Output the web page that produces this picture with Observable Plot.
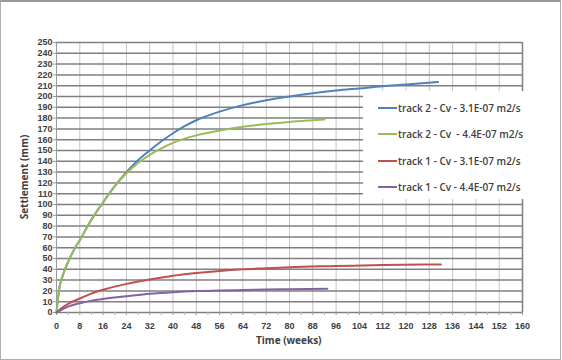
<!DOCTYPE html>
<html>
<head>
<meta charset="utf-8">
<script src="https://cdn.jsdelivr.net/npm/d3@7"></script>
<script src="https://cdn.jsdelivr.net/npm/@observablehq/plot@0.6"></script>
<style>
  html, body { margin: 0; padding: 0; background: #fff; }
  #wrap { position: relative; width: 562px; height: 360px; overflow: hidden; font-family: "Open Sans", sans-serif; }
  #frame { position: absolute; left: 0; top: 0; width: 559px; height: 357px; border: 1px solid #b0b0b0; border-top: 2px solid #999; pointer-events: none; }
  .ttl { position: absolute; font-weight: 700; font-size: 10px; color: #404040; white-space: nowrap; }
  #legend { position: absolute; left: 363px; top: 91px; width: 167px; height: 108px; background: #fff; }
  .item { position: absolute; left: 15px; height: 14px; display: flex; align-items: center; white-space: pre; font-size: 10px; font-weight: 600; color: #404040; }
  .sw { display: inline-block; width: 19px; height: 2px; margin-right: 1px; }
</style>
</head>
<body>
<div id="wrap"></div>
<script>
// ---- data ----
const xTicks = [0, 8, 16, 24, 32, 40, 48, 56, 64, 72, 80, 88, 96, 104, 112, 120, 128, 136, 144, 152, 160];
const yTicks = [0, 10, 20, 30, 40, 50, 60, 70, 80, 90, 100, 110, 120, 130, 140, 150, 160, 170, 180, 190, 200, 210, 220, 230, 240, 250];
const xMinorTicks = [4, 12, 20, 28, 36, 44, 52, 60, 68, 76, 84, 92, 100, 108, 116, 124, 132, 140, 148, 156];

const seriesNames = [
  "track 2 - Cv - 3.1E-07 m2/s",
  "track 2 - Cv  - 4.4E-07 m2/s",
  "track 1 - Cv - 3.1E-07 m2/s",
  "track 1 - Cv - 4.4E-07 m2/s"
];
const seriesColors = ["#4f81bd", "#9bbb59", "#c0504d", "#8064a2"];

const weeksA = [0, 1, 2, 4, 6, 8, 12, 16, 20, 24, 28, 32, 36, 40, 44, 48, 56, 64, 72, 80, 88, 96, 104, 112, 120, 131];
const track2Cv31 = [0, 23, 33, 47, 58, 67, 86, 102, 117, 130, 141, 150, 158.5, 166, 172.5, 178, 186, 192, 196.5, 200, 203, 205.5, 207.5, 209.5, 211, 213.5];

const weeksB = [0, 1, 2, 4, 6, 8, 12, 16, 20, 24, 28, 32, 36, 40, 44, 48, 56, 64, 72, 80, 88, 92];
const track2Cv44 = [0, 23, 33, 47, 58, 67, 86, 102, 117, 129, 138.5, 146, 152, 157, 161, 164, 168.5, 172, 174.5, 176.5, 178, 178.7];

const weeksC = [0, 2, 4, 8, 12, 16, 24, 32, 40, 48, 56, 64, 72, 80, 96, 112, 132];
const track1Cv31 = [0, 4.5, 8, 13, 17.5, 21, 26.5, 30.5, 34, 36.5, 38.5, 40, 41, 42, 43, 44, 44.5];

const weeksD = [0, 2, 4, 8, 12, 16, 24, 32, 40, 48, 56, 64, 72, 80, 93];
const track1Cv44 = [0, 3, 5.5, 8.6, 11, 12.6, 15, 17.3, 18.8, 19.8, 20.3, 20.8, 21.2, 21.6, 22];

// table built from the arrays
const table = [];
[[weeksA, track2Cv31], [weeksB, track2Cv44], [weeksC, track1Cv31], [weeksD, track1Cv44]].forEach(([w, v], i) => {
  w.forEach((t, j) => table.push({series: seriesNames[i], week: t, mm: v[j]}));
});

const chart = Plot.plot({
  width: 562,
  height: 360,
  marginLeft: 56,
  marginRight: 40,
  marginTop: 42,
  marginBottom: 48,
  style: {fontFamily: "'Liberation Sans', Arial, sans-serif", fontSize: "9px", fontWeight: "700", color: "#404040", background: "transparent"},
  x: {domain: [0, 160], label: null},
  y: {domain: [0, 250], label: null},
  color: {domain: seriesNames, range: seriesColors},
  marks: [
    Plot.gridX(xTicks, {stroke: "#c4c4c4", strokeOpacity: 1, strokeWidth: 1}),
    Plot.gridY(yTicks, {stroke: "#7f7f7f", strokeOpacity: 1, strokeWidth: 1.5}),
    Plot.ruleX([160], {stroke: "#7f7f7f", strokeWidth: 1.5}),
    Plot.ruleX([0], {stroke: "#9a9a9a", strokeWidth: 1}),
    Plot.axisX(xTicks, {tickSize: 3, tickPadding: 7, stroke: "#9a9a9a", label: null}),
    Plot.axisX(xMinorTicks, {tickSize: 3, stroke: "#b0b0b0", fill: "none", label: null}),
    Plot.axisY(yTicks, {tickSize: 3, tickPadding: 1, stroke: "#9a9a9a", label: null}),
    Plot.line(table, {x: "week", y: "mm", z: "series", stroke: "series", strokeWidth: 2, curve: "monotone-x"})
  ]
});

const wrap = document.getElementById("wrap");
wrap.appendChild(chart);

// axis titles
const xt = document.createElement("div");
xt.className = "ttl";
xt.textContent = "Time (weeks)";
xt.style.left = "256px";
xt.style.top = "333px";
wrap.appendChild(xt);

const yt = document.createElement("div");
yt.className = "ttl";
yt.textContent = "Settlement (mm)";
yt.style.left = "-18px";
yt.style.top = "170px";
yt.style.transform = "rotate(-90deg)";
wrap.appendChild(yt);

// legend
const lg = document.createElement("div");
lg.id = "legend";
seriesNames.forEach((name, i) => {
  const it = document.createElement("div");
  it.className = "item";
  it.style.top = (10 + i * 26.3) + "px";
  const sw = document.createElement("span");
  sw.className = "sw";
  sw.style.background = seriesColors[i];
  it.appendChild(sw);
  it.appendChild(document.createTextNode(name));
  lg.appendChild(it);
});
wrap.appendChild(lg);

const fr = document.createElement("div");
fr.id = "frame";
wrap.appendChild(fr);
</script>
</body>
</html>
